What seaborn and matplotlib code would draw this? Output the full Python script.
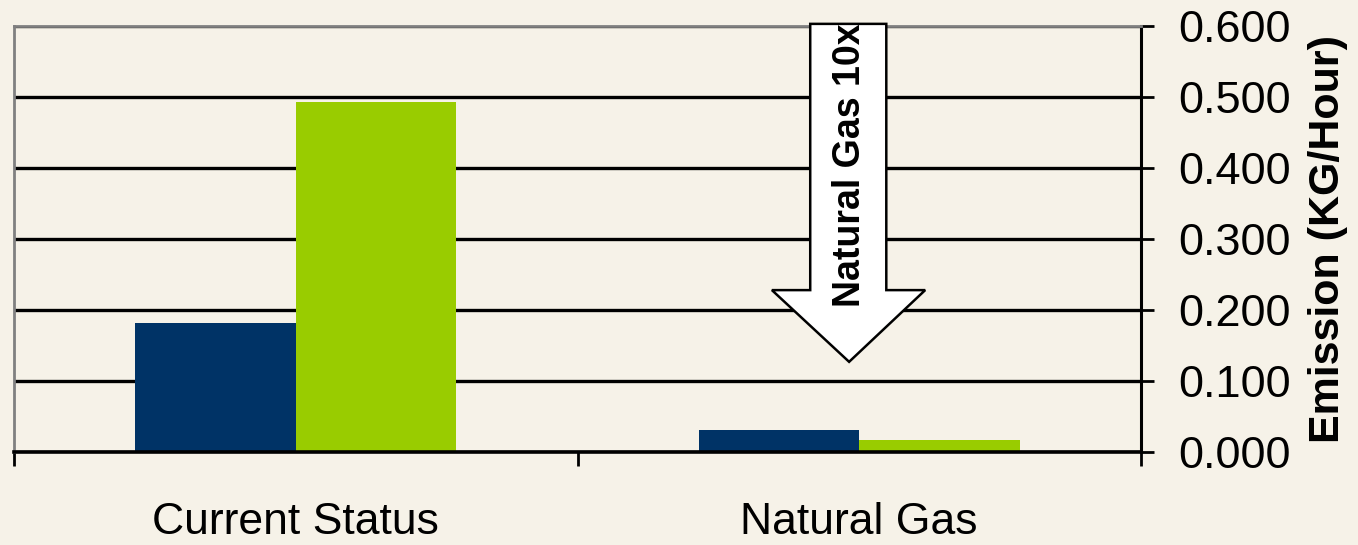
import pandas as pd
import matplotlib
matplotlib.use('Agg')
import matplotlib.pyplot as plt
from matplotlib.patches import Polygon
from matplotlib.ticker import FormatStrFormatter, MultipleLocator, FixedLocator
import seaborn as sns

# Data
categories = ['Current Status', 'Natural Gas']
series_names = ['Series 1', 'Series 2']
series_1 = [0.182, 0.031]
series_2 = [0.493, 0.017]
arrow_label = 'Natural Gas 10x'
y_label = 'Emission (KG/Hour)'

bg = '#F6F2E8'
colors = ['#003366', '#99CC00']

sns.set_theme(style='white')
plt.rcParams['font.family'] = ['Liberation Sans', 'DejaVu Sans']

df = pd.DataFrame({
    'Category': categories * 2,
    'Series': [series_names[0]] * len(categories) + [series_names[1]] * len(categories),
    'Value': series_1 + series_2,
})

fig = plt.figure(figsize=(13.58, 5.45), dpi=100, facecolor=bg)
ax = fig.add_axes([14 / 1358, 93 / 545, 1127 / 1358, 426 / 545])
ax.set_facecolor(bg)

sns.barplot(data=df, x='Category', y='Value', hue='Series', palette=colors,
            width=0.57, ax=ax, legend=False, saturation=1, edgecolor='none', zorder=3)

ax.set_xlim(-0.5, 1.5)
ax.set_ylim(0, 0.6)

# Grid
ax.yaxis.set_major_locator(MultipleLocator(0.1))
ax.grid(axis='y', color='black', linewidth=2.4, zorder=1)
ax.set_axisbelow(True)

# Right y axis
ax.yaxis.tick_right()
ax.yaxis.set_label_position('right')
ax.yaxis.set_major_formatter(FormatStrFormatter('%.3f'))
ax.tick_params(axis='y', which='major', direction='out', length=9.5, width=2,
               color='black', labelsize=32.5, pad=17, labelcolor='black')
ax.set_ylabel(y_label, fontsize=31, fontweight='bold', labelpad=13, color='black')

# Category axis: labels without marks, marks between categories
ax.tick_params(axis='x', which='major', length=0, pad=36)
ax.xaxis.set_minor_locator(FixedLocator([-0.5, 0.5, 1.5]))
ax.tick_params(axis='x', which='minor', direction='out', length=10, width=2, color='black',
               bottom=True)
for lbl in ax.get_xticklabels():
    lbl.set_family(['Liberation Sans Narrow', 'Liberation Sans'])
    lbl.set_fontsize(32)
    lbl.set_color('black')
ax.set_xlabel('')

# Spines
for side in ['top', 'left']:
    ax.spines[side].set_color('#808080')
    ax.spines[side].set_linewidth(2)
ax.spines['right'].set_color('black')
ax.spines['right'].set_linewidth(2.2)
ax.spines['bottom'].set_color('black')
ax.spines['bottom'].set_linewidth(2.6)
ax.spines['bottom'].set_zorder(4)

# Down arrow annotation
shaft_l, shaft_r = 0.913, 1.048
head_l, head_r, tip_x = 0.845, 1.117, 0.982
top_y, neck_y, tip_y = 0.603, 0.228, 0.127
arrow = Polygon([(shaft_l, top_y), (shaft_r, top_y), (shaft_r, neck_y), (head_r, neck_y),
                 (tip_x, tip_y), (head_l, neck_y), (shaft_l, neck_y)],
                closed=True, facecolor='white', edgecolor='black', linewidth=1.8,
                zorder=5, clip_on=False)
ax.add_patch(arrow)
ax.text(tip_x + 0.002, 0.404, arrow_label, rotation=90, ha='center', va='center',
        fontsize=27, fontweight='bold', color='black', zorder=6)

fig.savefig('out.png', dpi=100, facecolor=bg)
